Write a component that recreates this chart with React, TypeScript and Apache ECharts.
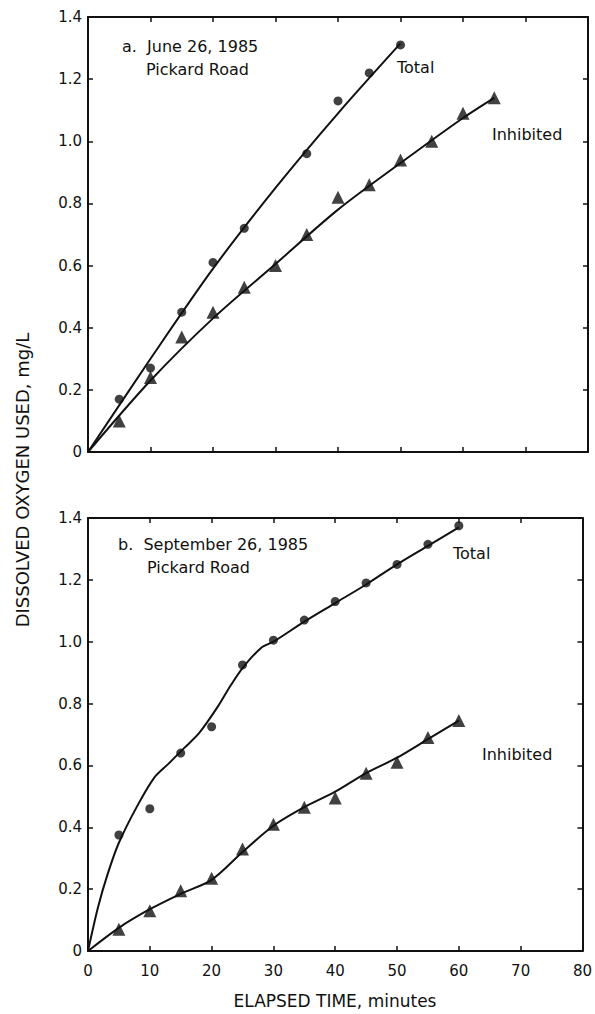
import React, { useEffect, useRef } from "react";
import * as echarts from "echarts";

// ---- Panel a: June 26, 1985 ----
const timeATotal = [5, 10, 15, 20, 25, 35, 40, 45, 50];
const doATotal = [0.17, 0.27, 0.45, 0.61, 0.72, 0.96, 1.13, 1.22, 1.31];
const timeAInh = [5, 10, 15, 20, 25, 30, 35, 40, 45, 50, 55, 60, 65];
const doAInh = [0.1, 0.24, 0.37, 0.45, 0.53, 0.6, 0.7, 0.82, 0.86, 0.94, 1.0, 1.09, 1.14];
// fitted curves
const fitATotalT = [0, 10, 20, 30, 40, 50];
const fitATotalV = [0, 0.3, 0.59, 0.85, 1.09, 1.315];
const fitAInhT = [0, 10, 20, 30, 40, 50, 60, 65];
const fitAInhV = [0, 0.23, 0.43, 0.605, 0.78, 0.93, 1.075, 1.14];

// ---- Panel b: September 26, 1985 ----
const timeB = [5, 10, 15, 20, 25, 30, 35, 40, 45, 50, 55, 60];
const doBTotal = [0.375, 0.46, 0.64, 0.725, 0.925, 1.005, 1.07, 1.13, 1.19, 1.25, 1.315, 1.375];
const doBInh = [0.07, 0.13, 0.195, 0.235, 0.33, 0.41, 0.465, 0.495, 0.575, 0.61, 0.69, 0.745];
const fitBTotalT = [0, 1.6, 3.2, 5, 8, 10.7, 13, 15.5, 18, 21, 23, 25, 28, 30, 35, 40, 45, 50, 55, 60];
const fitBTotalV = [0, 0.14, 0.25, 0.35, 0.47, 0.56, 0.605, 0.655, 0.705, 0.79, 0.856, 0.915, 0.98, 1.0, 1.065, 1.125, 1.185, 1.25, 1.31, 1.37];
const fitBInhT = [0, 5, 10, 15, 20, 25, 30, 35, 40, 45, 50, 55, 60];
const fitBInhV = [0, 0.075, 0.135, 0.185, 0.23, 0.32, 0.405, 0.465, 0.515, 0.575, 0.625, 0.685, 0.745];

const FONT = "DejaVu Sans";
const INK = "#111";

const zip = (a: number[], b: number[]) => a.map((v, i) => [v, b[i]]);

export default function App() {
  const ref = useRef<HTMLDivElement>(null);
  useEffect(() => {
    if (!ref.current) return;
    const chart = echarts.init(ref.current, undefined, { renderer: "svg" });

    const xAxisBase = (grid: number, pos: "bottom" | "top", labels: boolean) => ({
      type: "value",
      gridIndex: grid,
      position: pos,
      min: 0,
      max: 80,
      interval: 10,
      axisLine: { show: true, onZero: false, lineStyle: { color: INK, width: 2 } },
      axisTick: { show: true, inside: true, length: 5, lineStyle: { color: INK, width: 1.5 } },
      axisLabel: {
        show: labels,
        color: INK,
        fontFamily: FONT,
        fontSize: 15,
        margin: 12,
      },
      splitLine: { show: false },
    });
    const yAxisBase = (grid: number, pos: "left" | "right", labels: boolean) => ({
      type: "value",
      gridIndex: grid,
      position: pos,
      min: 0,
      max: 1.4,
      interval: 0.2,
      axisLine: { show: true, onZero: false, lineStyle: { color: INK, width: 2 } },
      axisTick: { show: true, inside: true, length: 5, lineStyle: { color: INK, width: 1.5 } },
      axisLabel: {
        show: labels,
        color: INK,
        fontFamily: FONT,
        fontSize: 15,
        margin: 6,
        formatter: (v: number) => (v === 0 ? "0" : v.toFixed(1)),
      },
      splitLine: { show: false },
    });

    const lineSeries = (xi: number, data: number[][]) => ({
      type: "line",
      xAxisIndex: xi,
      yAxisIndex: xi,
      data,
      smooth: 0.3,
      symbol: "none",
      lineStyle: { color: INK, width: 2 },
      z: 2,
    });
    const pointSeries = (xi: number, data: number[][], symbol: string, size: number) => ({
      type: "scatter",
      xAxisIndex: xi,
      yAxisIndex: xi,
      data,
      symbol,
      symbolSize: size,
      itemStyle: { color: INK },
      z: 3,
    });

    const txt = (left: number, top: number, text: string, size = 16) => ({
      type: "text",
      left,
      top,
      style: { text, fill: INK, font: `${size}px "${FONT}"` },
    });

    chart.setOption({
      animation: false,
      backgroundColor: "#fff",
      grid: [
        { left: 88, top: 17, width: 500, height: 435 },
        { left: 88, top: 518, width: 500, height: 433 },
      ],
      xAxis: [
        xAxisBase(0, "bottom", false),
        xAxisBase(0, "top", false),
        xAxisBase(1, "bottom", true),
        xAxisBase(1, "top", false),
      ],
      yAxis: [
        yAxisBase(0, "left", true),
        yAxisBase(0, "right", false),
        yAxisBase(1, "left", true),
        yAxisBase(1, "right", false),
      ],
      series: [
        lineSeries(0, zip(fitATotalT, fitATotalV)),
        lineSeries(0, zip(fitAInhT, fitAInhV)),
        pointSeries(0, zip(timeATotal, doATotal), "circle", 9),
        pointSeries(0, zip(timeAInh, doAInh), "triangle", 13),
        lineSeries(2, zip(fitBTotalT, fitBTotalV)),
        lineSeries(2, zip(fitBInhT, fitBInhV)),
        pointSeries(2, zip(timeB, doBTotal), "circle", 9),
        pointSeries(2, zip(timeB, doBInh), "triangle", 13),
      ],
      graphic: [
        txt(122, 38, "a.  June 26, 1985"),
        txt(146, 61, "Pickard Road"),
        txt(397, 59, "Total"),
        txt(492, 126, "Inhibited"),
        txt(118, 536, "b.  September 26, 1985"),
        txt(147, 559, "Pickard Road"),
        txt(453, 545, "Total"),
        txt(482, 746, "Inhibited"),
        {
          type: "text",
          x: 22,
          y: 480,
          rotation: Math.PI / 2,
          style: {
            text: "DISSOLVED OXYGEN USED, mg/L",
            fill: INK,
            font: `18px "${FONT}"`,
            align: "center",
            verticalAlign: "middle",
          },
        },
        {
          type: "text",
          x: 335,
          y: 1001,
          style: {
            text: "ELAPSED TIME, minutes",
            fill: INK,
            font: `17px "${FONT}"`,
            align: "center",
            verticalAlign: "middle",
          },
        },
      ],
    });
    return () => chart.dispose();
  }, []);
  return (
    <div
      ref={ref}
      style={{ position: "absolute", left: 0, top: 0, width: 595, height: 1014 }}
    />
  );
}
